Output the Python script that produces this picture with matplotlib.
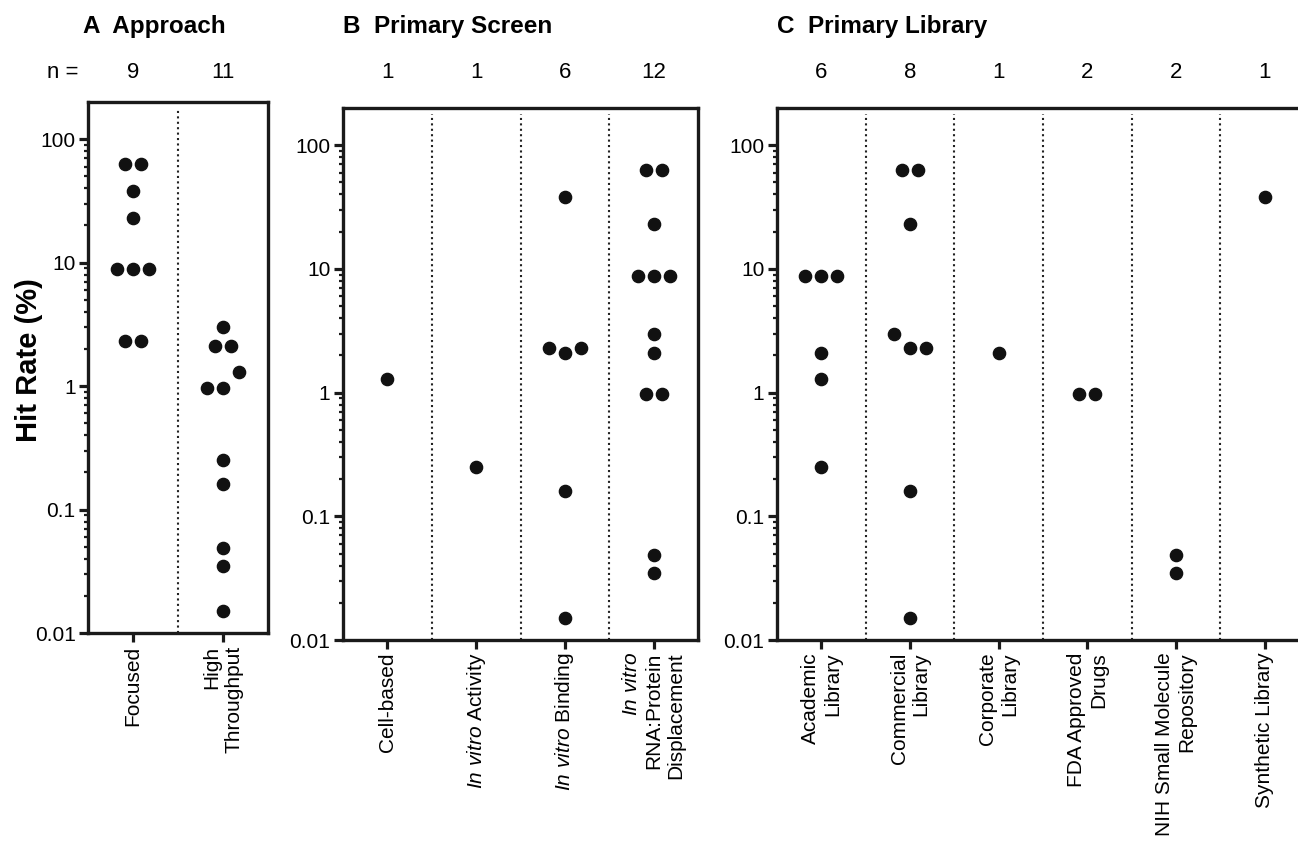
import numpy as np
import matplotlib
matplotlib.use('Agg')
import matplotlib.pyplot as plt
from matplotlib.ticker import FixedLocator, FixedFormatter, NullFormatter

plt.rcParams['font.family'] = ['Liberation Sans', 'DejaVu Sans']
plt.rcParams['mathtext.fontset'] = 'custom'
plt.rcParams['mathtext.it'] = 'Liberation Sans:italic'
plt.rcParams['mathtext.rm'] = 'Liberation Sans'

# ---------------- data ----------------
approach_labels = ['Focused', 'High\nThroughput']
approach_values = [
    [63, 63, 38, 23, 8.8, 8.8, 8.8, 2.3, 2.3],
    [3.0, 2.1, 2.1, 0.97, 0.97, 1.3, 0.25, 0.16, 0.049, 0.035, 0.015],
]

screen_labels = ['Cell-based',
                 '$\\mathit{In\\ vitro}$ Activity',
                 '$\\mathit{In\\ vitro}$ Binding',
                 '$\\mathit{In\\ vitro}$\nRNA:Protein\nDisplacement']
screen_values = [
    [1.3],
    [0.25],
    [38, 2.3, 2.1, 2.3, 0.16, 0.015],
    [63, 63, 23, 8.8, 8.8, 8.8, 3.0, 2.1, 0.97, 0.97, 0.049, 0.035],
]

library_labels = ['Academic\nLibrary', 'Commercial\nLibrary', 'Corporate\nLibrary',
                  'FDA Approved\nDrugs', 'NIH Small Molecule\nRepository', 'Synthetic Library']
library_values = [
    [8.8, 8.8, 8.8, 2.1, 1.3, 0.25],
    [63, 63, 23, 3.0, 2.3, 2.3, 0.16, 0.015],
    [2.1],
    [0.97, 0.97],
    [0.049, 0.035],
    [38],
]

ytick_values = [0.01, 0.1, 1, 10, 100]
ytick_labels = ['0.01', '0.1', '1', '10', '100']
titles = ['A  Approach', 'B  Primary Screen', 'C  Primary Library']

# ---------------- layout ----------------
W, H = 1298, 847
fig = plt.figure(figsize=(W / 100, H / 100), dpi=100)

# axes boxes in pixels: left, top, right, bottom
boxes = [(88, 102, 268, 633), (343, 108, 698, 640), (777, 108, 1309, 640)]
title_x = [83, 343, 777]
title_y = 27
count_y = 73
slot_px = 16.0          # horizontal spacing of side-by-side points
cluster_dec = 0.135     # values closer than this (decades) share a row
ms = 8.8

panels = [(approach_labels, approach_values), (screen_labels, screen_values),
          (library_labels, library_values)]


def swarm_offsets(vals):
    vals = np.asarray(vals, dtype=float)
    lv = np.log10(vals)
    order = np.argsort(-lv, kind='stable')
    clusters = []
    cur = [order[0]]
    for a, b in zip(order[:-1], order[1:]):
        if abs(lv[a] - lv[b]) < cluster_dec:
            cur.append(b)
        else:
            clusters.append(cur)
            cur = [b]
    clusters.append(cur)
    offs = np.zeros(len(vals))
    for c in clusters:
        c = sorted(c)  # keep data order left-to-right
        n = len(c)
        for k, idx in enumerate(c):
            offs[idx] = k - (n - 1) / 2.0
    return offs


minor_vals = [k * 10.0 ** e for e in range(-2, 2) for k in range(2, 10)]

for p, ((labels, values), box) in enumerate(zip(panels, boxes)):
    l, t, r, b = box
    ax = fig.add_axes([l / W, 1 - b / H, (r - l) / W, (b - t) / H])
    ncat = len(labels)
    ax.set_yscale('log')
    ax.set_ylim(0.01, 200)
    ax.set_xlim(-0.5, ncat - 0.5)
    cat_px = (r - l) / ncat
    for i, vals in enumerate(values):
        offs = swarm_offsets(vals) * slot_px / cat_px
        ax.plot(i + offs, vals, 'o', color='#111111', ms=ms, mec='#111111',
                clip_on=False, zorder=3)
    for k in range(1, ncat):
        ax.axvline(k - 0.5, ymin=0, ymax=1 - 6 / (b - t), color='#222222',
                   lw=1.5, ls=(0, (1, 1.6)), zorder=1)
    for s in ax.spines.values():
        s.set_linewidth(2.4)
        s.set_color('#1a1a1a')
    ax.yaxis.set_major_locator(FixedLocator(ytick_values))
    ax.yaxis.set_major_formatter(FixedFormatter(ytick_labels))
    ax.yaxis.set_minor_locator(FixedLocator(minor_vals))
    ax.yaxis.set_minor_formatter(NullFormatter())
    ax.tick_params(axis='y', which='major', length=6.5, width=2.3, pad=2.5,
                   labelsize=15, color='#1a1a1a')
    ax.tick_params(axis='y', which='minor', length=3.2, width=1.6, color='#1a1a1a')
    ax.set_xticks(range(ncat))
    ax.set_xticklabels(labels, rotation=90, ha='center', va='top',
                       multialignment='right', fontsize=15)
    ax.tick_params(axis='x', length=6.5, width=2.3, pad=2.5, color='#1a1a1a')
    ax.tick_params(axis='x', which='minor', bottom=False)
    # counts
    yfrac = 1 + (t - count_y) / (b - t)
    for i, vals in enumerate(values):
        ax.text(i, yfrac, str(len(vals)), transform=ax.get_xaxis_transform(),
                ha='center', va='center', fontsize=16)
    fig.text(title_x[p] / W, 1 - title_y / H, titles[p], fontweight='bold',
             fontsize=17.5, ha='left', va='center')

fig.text(63 / W, 1 - count_y / H, 'n =', ha='center', va='center', fontsize=16)
fig.text(29 / W, 1 - 360 / H, 'Hit Rate (%)', rotation=90, fontsize=21,
         fontweight='bold', ha='center', va='center')

fig.savefig('out.png', dpi=100)
